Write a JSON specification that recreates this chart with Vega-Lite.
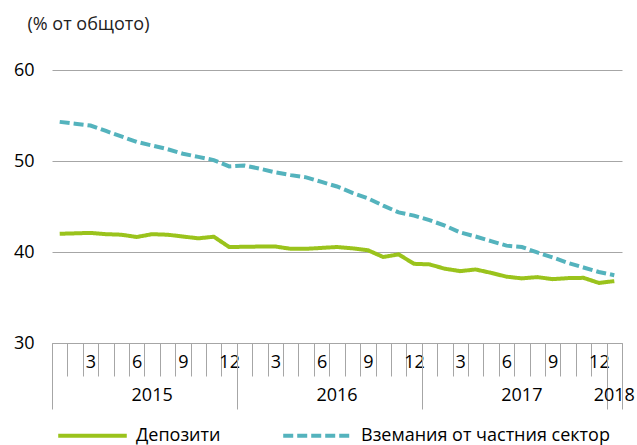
{
  "$schema": "https://vega.github.io/schema/vega-lite/v6.json",
  "width": 570,
  "height": 273,
  "autosize": "none",
  "padding": {"left": 52, "top": 70, "right": 15, "bottom": 102},
  "config": {"font": "Open Sans", "view": {"stroke": null}},
  "data": {
    "values": [
      {"t": "2015-01", "s": "Депозити", "v": 42.0},
      {"t": "2015-02", "s": "Депозити", "v": 42.05},
      {"t": "2015-03", "s": "Депозити", "v": 42.1},
      {"t": "2015-04", "s": "Депозити", "v": 41.96},
      {"t": "2015-05", "s": "Депозити", "v": 41.9},
      {"t": "2015-06", "s": "Депозити", "v": 41.65},
      {"t": "2015-07", "s": "Депозити", "v": 41.96},
      {"t": "2015-08", "s": "Депозити", "v": 41.9},
      {"t": "2015-09", "s": "Депозити", "v": 41.7},
      {"t": "2015-10", "s": "Депозити", "v": 41.5},
      {"t": "2015-11", "s": "Депозити", "v": 41.68},
      {"t": "2015-12", "s": "Депозити", "v": 40.55},
      {"t": "2016-01", "s": "Депозити", "v": 40.57},
      {"t": "2016-02", "s": "Депозити", "v": 40.6},
      {"t": "2016-03", "s": "Депозити", "v": 40.6},
      {"t": "2016-04", "s": "Депозити", "v": 40.35},
      {"t": "2016-05", "s": "Депозити", "v": 40.35},
      {"t": "2016-06", "s": "Депозити", "v": 40.45},
      {"t": "2016-07", "s": "Депозити", "v": 40.55},
      {"t": "2016-08", "s": "Депозити", "v": 40.4},
      {"t": "2016-09", "s": "Депозити", "v": 40.2},
      {"t": "2016-10", "s": "Депозити", "v": 39.45},
      {"t": "2016-11", "s": "Депозити", "v": 39.74},
      {"t": "2016-12", "s": "Депозити", "v": 38.7},
      {"t": "2017-01", "s": "Депозити", "v": 38.64},
      {"t": "2017-02", "s": "Депозити", "v": 38.16},
      {"t": "2017-03", "s": "Депозити", "v": 37.9},
      {"t": "2017-04", "s": "Депозити", "v": 38.08},
      {"t": "2017-05", "s": "Депозити", "v": 37.71},
      {"t": "2017-06", "s": "Депозити", "v": 37.29},
      {"t": "2017-07", "s": "Депозити", "v": 37.1},
      {"t": "2017-08", "s": "Депозити", "v": 37.24},
      {"t": "2017-09", "s": "Депозити", "v": 37.02},
      {"t": "2017-10", "s": "Депозити", "v": 37.13},
      {"t": "2017-11", "s": "Депозити", "v": 37.16},
      {"t": "2017-12", "s": "Депозити", "v": 36.6},
      {"t": "2018-01", "s": "Депозити", "v": 36.8},
      {"t": "2015-01", "s": "Вземания от частния сектор", "v": 54.3},
      {"t": "2015-02", "s": "Вземания от частния сектор", "v": 54.1},
      {"t": "2015-03", "s": "Вземания от частния сектор", "v": 53.9},
      {"t": "2015-04", "s": "Вземания от частния сектор", "v": 53.3},
      {"t": "2015-05", "s": "Вземания от частния сектор", "v": 52.7},
      {"t": "2015-06", "s": "Вземания от частния сектор", "v": 52.1},
      {"t": "2015-07", "s": "Вземания от частния сектор", "v": 51.7},
      {"t": "2015-08", "s": "Вземания от частния сектор", "v": 51.3},
      {"t": "2015-09", "s": "Вземания от частния сектор", "v": 50.8},
      {"t": "2015-10", "s": "Вземания от частния сектор", "v": 50.45},
      {"t": "2015-11", "s": "Вземания от частния сектор", "v": 50.1},
      {"t": "2015-12", "s": "Вземания от частния сектор", "v": 49.4},
      {"t": "2016-01", "s": "Вземания от частния сектор", "v": 49.5},
      {"t": "2016-02", "s": "Вземания от частния сектор", "v": 49.15},
      {"t": "2016-03", "s": "Вземания от частния сектор", "v": 48.75},
      {"t": "2016-04", "s": "Вземания от частния сектор", "v": 48.45},
      {"t": "2016-05", "s": "Вземания от частния сектор", "v": 48.2},
      {"t": "2016-06", "s": "Вземания от частния сектор", "v": 47.7},
      {"t": "2016-07", "s": "Вземания от частния сектор", "v": 47.2},
      {"t": "2016-08", "s": "Вземания от частния сектор", "v": 46.5},
      {"t": "2016-09", "s": "Вземания от частния сектор", "v": 45.9},
      {"t": "2016-10", "s": "Вземания от частния сектор", "v": 45.1},
      {"t": "2016-11", "s": "Вземания от частния сектор", "v": 44.35},
      {"t": "2016-12", "s": "Вземания от частния сектор", "v": 44.0},
      {"t": "2017-01", "s": "Вземания от частния сектор", "v": 43.5},
      {"t": "2017-02", "s": "Вземания от частния сектор", "v": 42.9},
      {"t": "2017-03", "s": "Вземания от частния сектор", "v": 42.15},
      {"t": "2017-04", "s": "Вземания от частния сектор", "v": 41.7},
      {"t": "2017-05", "s": "Вземания от частния сектор", "v": 41.2},
      {"t": "2017-06", "s": "Вземания от частния сектор", "v": 40.7},
      {"t": "2017-07", "s": "Вземания от частния сектор", "v": 40.55},
      {"t": "2017-08", "s": "Вземания от частния сектор", "v": 39.95},
      {"t": "2017-09", "s": "Вземания от частния сектор", "v": 39.4},
      {"t": "2017-10", "s": "Вземания от частния сектор", "v": 38.8},
      {"t": "2017-11", "s": "Вземания от частния сектор", "v": 38.3},
      {"t": "2017-12", "s": "Вземания от частния сектор", "v": 37.8},
      {"t": "2018-01", "s": "Вземания от частния сектор", "v": 37.45}
    ]
  },
  "encoding": {
    "y": {
      "field": "v",
      "type": "quantitative",
      "scale": {"domain": [30, 60]},
      "axis": {
        "values": [30, 40, 50, 60],
        "title": "(% от общото)",
        "titleAngle": 0,
        "titleAlign": "left",
        "titleBaseline": "alphabetic",
        "titleX": -25,
        "titleY": -41,
        "titleFontSize": 18,
        "titleFontWeight": "normal",
        "titleColor": "#222222",
        "domain": false,
        "ticks": false,
        "grid": true,
        "gridColor": "#a6a6a6",
        "gridWidth": 1,
        "labelPadding": 18,
        "labelFontSize": 18,
        "labelColor": "#000000"
      }
    }
  },
  "layer": [
    {
      "mark": {"type": "line", "strokeWidth": 4},
      "encoding": {
        "x": {
          "field": "t",
          "type": "ordinal",
          "scale": {"paddingInner": 0, "paddingOuter": 0},
          "axis": {
            "title": null,
            "orient": "bottom",
            "tickBand": "extent",
            "tickSize": 33,
            "tickColor": "#a6a6a6",
            "tickWidth": 1,
            "domainColor": "#a6a6a6",
            "domainWidth": 1,
            "grid": false,
            "labelAngle": 0,
            "labelExpr": "indexof(['03','06','09','12'], slice(datum.label + '', 5)) >= 0 ? '' + toNumber(slice(datum.label + '', 5)) : ''",
            "labelBaseline": "middle",
            "labelPadding": -14,
            "labelFontSize": 18,
            "labelColor": "#000000",
            "labelOverlap": false,
            "labelBound": false,
            "labelFlush": false
          }
        },
        "color": {
          "field": "s",
          "type": "nominal",
          "scale": {
            "domain": ["Депозити", "Вземания от частния сектор"],
            "range": ["#9AC31C", "#54B3BD"]
          },
          "legend": {
            "title": null,
            "orient": "none",
            "direction": "horizontal",
            "legendX": 4,
            "legendY": 329,
            "symbolType": "stroke",
            "symbolSize": 4700,
            "symbolStrokeWidth": 4,
            "labelFontSize": 18,
            "labelColor": "#000000",
            "labelOffset": 7,
            "labelLimit": 0,
            "columnPadding": 54,
            "padding": 0
          }
        },
        "strokeDash": {
          "field": "s",
          "type": "nominal",
          "scale": {
            "domain": ["Депозити", "Вземания от частния сектор"],
            "range": [[1, 0], [10, 4]]
          }
        }
      }
    },
    {
      "mark": {"type": "point", "opacity": 0},
      "encoding": {
        "x": {
          "field": "t",
          "type": "ordinal",
          "axis": {
            "title": null,
            "orient": "bottom",
            "values": ["2015-01", "2015-12", "2016-12", "2017-12", "2018-01"],
            "tickBand": "extent",
            "tickSize": 66,
            "tickColor": "#a6a6a6",
            "tickWidth": 1,
            "tickOpacity": {"condition": {"test": "datum.value === '2015-01'", "value": 0}, "value": 1},
            "domain": false,
            "grid": false,
            "labels": false
          }
        }
      }
    },
    {
      "mark": {"type": "point", "opacity": 0},
      "encoding": {
        "x": {
          "field": "t",
          "type": "ordinal",
          "axis": {
            "title": null,
            "orient": "bottom",
            "values": ["2015-07", "2016-07", "2017-07"],
            "bandPosition": 0,
            "ticks": false,
            "domain": false,
            "grid": false,
            "labelAngle": 0,
            "labelExpr": "slice(datum.label + '', 0, 4)",
            "labelBaseline": "middle",
            "labelPadding": 52,
            "labelFontSize": 18,
            "labelColor": "#000000",
            "labelOverlap": false,
            "labelBound": false,
            "labelFlush": false
          }
        }
      }
    },
    {
      "mark": {"type": "point", "opacity": 0},
      "encoding": {
        "x": {
          "field": "t",
          "type": "ordinal",
          "axis": {
            "title": null,
            "orient": "bottom",
            "values": ["2018-01"],
            "ticks": false,
            "domain": false,
            "grid": false,
            "labelAngle": 0,
            "labelExpr": "slice(datum.label + '', 0, 4)",
            "labelBaseline": "middle",
            "labelPadding": 52,
            "labelFontSize": 18,
            "labelColor": "#000000",
            "labelOverlap": false,
            "labelBound": false,
            "labelFlush": false
          }
        }
      }
    }
  ],
  "resolve": {"axis": {"x": "independent"}}
}
